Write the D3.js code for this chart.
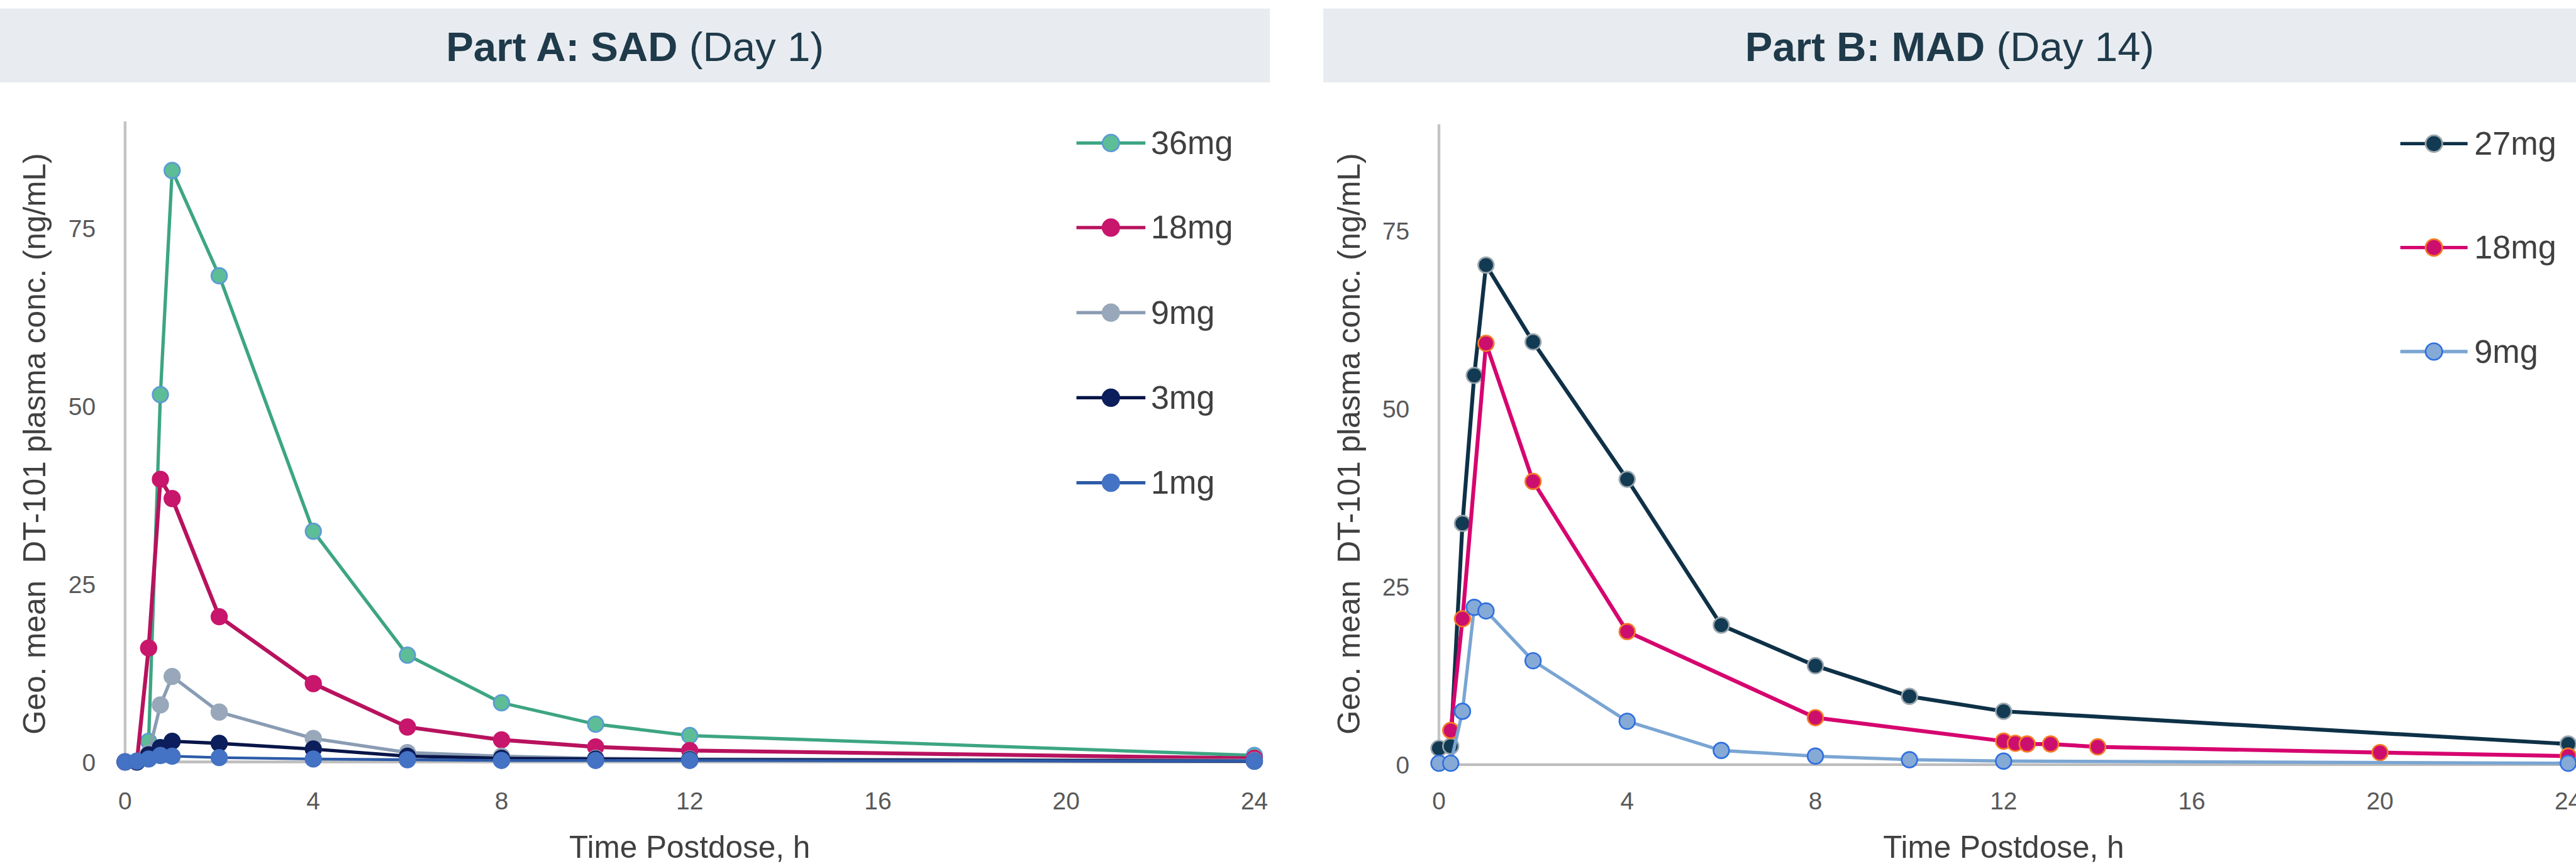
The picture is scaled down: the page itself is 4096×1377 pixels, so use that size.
<!DOCTYPE html>
<html>
<head>
<meta charset="utf-8">
<script src="https://cdn.jsdelivr.net/npm/d3@7"></script>
<style>
  html, body { margin: 0; padding: 0; background: #ffffff; }
  svg { display: block; }
  text { font-family: "Liberation Sans", Arial, sans-serif; }
</style>
</head>
<body>
<svg id="chart" width="4096" height="1377" viewBox="0 0 4633 1557"></svg>
<script>
// ---------------- DATA ----------------
const xTicks = [0, 4, 8, 12, 16, 20, 24];
const yTicks = [0, 25, 50, 75];

// Part A: SAD (Day 1)
const timesA = [0, 0.25, 0.5, 0.75, 1, 2, 4, 6, 8, 10, 12, 24];
const sad36 = [0, 0, 2.9, 51.6, 83.1, 68.3, 32.4, 15.0, 8.3, 5.3, 3.7, 0.9];
const sad18 = [0, 0, 16.0, 39.7, 37.0, 20.4, 11.0, 4.9, 3.1, 2.1, 1.6, 0.5];
const sad9  = [0, 0, 1.2, 8.0, 12.0, 7.0, 3.3, 1.3, 0.8, 0.5, 0.4, 0.2];
const sad3  = [0, 0, 1.0, 2.0, 2.9, 2.6, 1.8, 0.8, 0.5, 0.4, 0.3, 0.1];
const sad1  = [0, 0.1, 0.4, 0.9, 0.8, 0.6, 0.4, 0.3, 0.2, 0.2, 0.2, 0.1];
const labelsA = ["36mg", "18mg", "9mg", "3mg", "1mg"];

// Part B: MAD (Day 14)
const timesB27 = [0, 0.25, 0.5, 0.75, 1, 2, 4, 6, 8, 10, 12, 24];
const mad27 = [2.3, 2.6, 33.9, 54.7, 70.2, 59.4, 40.1, 19.6, 13.9, 9.6, 7.5, 2.9];
const timesB18 = [0.25, 0.5, 1, 2, 4, 8, 12, 12.25, 12.5, 13, 14, 20, 24];
const mad18 = [4.8, 20.5, 59.2, 39.8, 18.7, 6.6, 3.3, 3.0, 2.9, 2.9, 2.5, 1.7, 1.2];
const timesB9 = [0, 0.25, 0.5, 0.75, 1, 2, 4, 6, 8, 10, 12, 24];
const mad9 = [0.2, 0.2, 7.5, 22.1, 21.6, 14.6, 6.1, 2.0, 1.2, 0.7, 0.5, 0.2];
const labelsB = ["27mg", "18mg", "9mg"];

const titleA = ["Part A: SAD", " (Day 1)"];
const titleB = ["Part B: MAD", " (Day 14)"];
const xTitle = "Time Postdose, h";
const yTitle = "Geo. mean  DT-101 plasma conc. (ng/mL)";

// ---------------- STYLES ----------------
const stylesA = [
  {line: "#3da583", fill: "#5dbd96", stroke: "#5b9bd5", lw: 6},
  {line: "#b8125e", fill: "#c8166c", stroke: "#c8166c", lw: 7},
  {line: "#8a9cb3", fill: "#98a8ba", stroke: "#98a8ba", lw: 6},
  {line: "#071548", fill: "#0c1e5b", stroke: "#0c1e5b", lw: 6},
  {line: "#2c5aa8", fill: "#4472c4", stroke: "#4472c4", lw: 5}
];
const stylesB = [
  {line: "#0e3147", fill: "#123a52", stroke: "#9aa6ad", lw: 7},
  {line: "#d6046f", fill: "#cc0e6e", stroke: "#f57a24", lw: 7},
  {line: "#7aa5d3", fill: "#86aad6", stroke: "#2f6fe0", lw: 6}
];

const svg = d3.select("#chart");

function panel(cfg) {
  const g = svg.append("g");
  // title bar
  g.append("rect").attr("x", cfg.bar[0]).attr("y", 15)
    .attr("width", cfg.bar[1] - cfg.bar[0]).attr("height", 133)
    .attr("fill", "#e8ecf0");
  const t = g.append("text").attr("x", (cfg.bar[0] + cfg.bar[1]) / 2).attr("y", 110)
    .attr("text-anchor", "middle").attr("font-size", 74).attr("fill", "#1f3a4a")
    .style("white-space", "pre");
  t.append("tspan").attr("font-weight", "bold").text(cfg.title[0]);
  t.append("tspan").attr("font-weight", "normal").text(cfg.title[1]);

  const x = d3.scaleLinear().domain([0, 24]).range(cfg.xr);
  const y = d3.scaleLinear().domain([0, 90]).range([cfg.y0, cfg.y0 - 90 * 12.8]);

  // axes lines
  g.append("line").attr("x1", x(0)).attr("x2", x(0)).attr("y1", y(90)).attr("y2", y(0) + 2)
    .attr("stroke", "#c4c4c4").attr("stroke-width", 5);
  g.append("line").attr("x1", x(0)).attr("x2", x(24)).attr("y1", y(0)).attr("y2", y(0))
    .attr("stroke", "#bdbdbd").attr("stroke-width", 5);

  // tick labels
  g.selectAll(".yt").data(yTicks).enter().append("text")
    .attr("x", x(0) - 53).attr("y", d => y(d) + 16)
    .attr("text-anchor", "end").attr("font-size", 44).attr("fill", "#595959")
    .text(d => d);
  g.selectAll(".xt").data(xTicks).enter().append("text")
    .attr("x", d => x(d)).attr("y", 1455)
    .attr("text-anchor", "middle").attr("font-size", 44).attr("fill", "#595959")
    .text(d => d);

  // axis titles
  g.append("text").attr("x", (cfg.xr[0] + cfg.xr[1]) / 2).attr("y", cfg.xtY)
    .attr("text-anchor", "middle").attr("font-size", 56).attr("fill", "#404040")
    .text(xTitle);
  g.append("text").attr("transform", `translate(${cfg.ytX},798) rotate(-90)`)
    .attr("text-anchor", "middle").attr("font-size", 56).attr("fill", "#404040")
    .style("white-space", "pre")
    .text(yTitle);

  // series
  const line = d3.line().x(d => x(d[0])).y(d => y(d[1]));
  cfg.series.forEach((s, i) => {
    const st = cfg.styles[i];
    const pts = s.t.map((tt, k) => [tt, s.v[k]]);
    const sg = g.append("g");
    sg.append("path").datum(pts).attr("d", line)
      .attr("fill", "none").attr("stroke", st.line).attr("stroke-width", st.lw)
      .attr("stroke-linejoin", "round");
    sg.selectAll("circle").data(pts).enter().append("circle")
      .attr("cx", d => x(d[0])).attr("cy", d => y(d[1])).attr("r", 14)
      .attr("fill", st.fill).attr("stroke", st.stroke).attr("stroke-width", 3);
  });

  // legend
  cfg.labels.forEach((lab, i) => {
    const st = cfg.styles[i];
    const ry = cfg.leg.rows[i];
    g.append("line").attr("x1", cfg.leg.x1).attr("x2", cfg.leg.x2).attr("y1", ry).attr("y2", ry)
      .attr("stroke", st.line).attr("stroke-width", 6);
    g.append("circle").attr("cx", (cfg.leg.x1 + cfg.leg.x2) / 2).attr("cy", ry).attr("r", 15)
      .attr("fill", st.fill).attr("stroke", st.stroke).attr("stroke-width", 3);
    g.append("text").attr("x", cfg.leg.tx).attr("y", ry + 20)
      .attr("font-size", 59).attr("fill", "#404040").text(lab);
  });
}

panel({
  bar: [0, 2284], title: titleA,
  xr: [225, 2256], y0: 1370, xtY: 1543, ytX: 81,
  series: [
    {t: timesA, v: sad36}, {t: timesA, v: sad18}, {t: timesA, v: sad9},
    {t: timesA, v: sad3}, {t: timesA, v: sad1}
  ],
  styles: stylesA, labels: labelsA,
  leg: {x1: 1936, x2: 2060, tx: 2070, rows: [257, 409, 562, 715, 868]}
});

panel({
  bar: [2380, 4633], title: titleB,
  xr: [2588, 4619], y0: 1375, xtY: 1543, ytX: 2445,
  series: [
    {t: timesB27, v: mad27}, {t: timesB18, v: mad18}, {t: timesB9, v: mad9}
  ],
  styles: stylesB, labels: labelsB,
  leg: {x1: 4317, x2: 4438, tx: 4450, rows: [258, 445, 632]}
});
</script>
</body>
</html>
